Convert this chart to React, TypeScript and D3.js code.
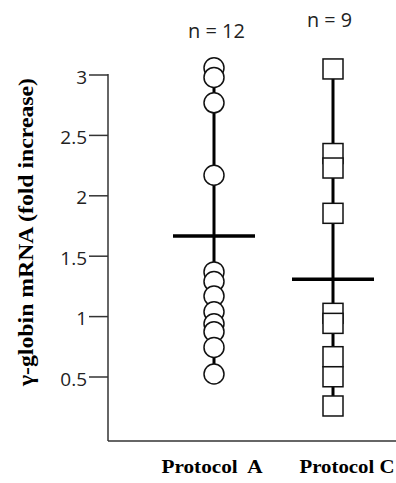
import * as d3 from "d3";

const GROUPS = ["Protocol A", "Protocol C"];
const N_LABELS = ["n = 12", "n = 9"];
const PROTOCOL_A = [3.06, 2.98, 2.77, 2.17, 1.37, 1.29, 1.17, 1.04, 0.94, 0.875, 0.745, 0.525];
const PROTOCOL_C = [3.05, 2.35, 2.23, 1.855, 1.027, 0.944, 0.668, 0.502, 0.26];
const MEANS = [1.667, 1.31];
const Y_TICKS = [0.5, 1, 1.5, 2, 2.5, 3];
const Y_TITLE = "γ-globin mRNA (fold increase)";

const WIDTH = 396;
const HEIGHT = 483;
const AXIS_X = 108;
const AXIS_Y = 441;
const MARKER = 20;
const MEAN_HALF = 41;

const SERIF = "'Liberation Serif', 'Times New Roman', serif";
const SANS = "'Open Sans', 'Noto Sans', sans-serif";

export default function App() {
  const yScale = d3.scaleLinear().domain([0.5, 3]).range([377, 75]);
  const xScale = d3.scalePoint<string>().domain(GROUPS).range([214, 333]);

  const series = [PROTOCOL_A, PROTOCOL_C];
  // label offsets relative to each group's column
  const labelDx = [-2, 14];
  const nDx = [2.5, -3.5];
  const nY = [38, 27];

  return (
    <svg
      width={WIDTH}
      height={HEIGHT}
      style={{ position: "absolute", left: 0, top: 0, background: "#fff" }}
    >
      {/* axes */}
      <line x1={AXIS_X} x2={AXIS_X} y1={yScale(3) - 1} y2={AXIS_Y} stroke="#333" strokeWidth={1.5} />
      <line x1={AXIS_X} x2={WIDTH} y1={AXIS_Y} y2={AXIS_Y} stroke="#333" strokeWidth={1.5} />
      {Y_TICKS.map((t) => (
        <g key={t} transform={`translate(0,${yScale(t)})`}>
          <line x1={89} x2={AXIS_X} stroke="#333" strokeWidth={1.5} />
          <text
            x={87}
            dy={8.5}
            textAnchor="end"
            fontFamily={SANS}
            fontSize={19}
            fill="#222"
          >
            {t}
          </text>
        </g>
      ))}

      {/* y title */}
      <text
        transform={`translate(33,${(78 + 386) / 2}) rotate(-90)`}
        textAnchor="middle"
        fontFamily={SERIF}
        fontWeight="bold"
        fontSize={20}
        textLength={308}
        lengthAdjust="spacingAndGlyphs"
        fill="#000"
      >
        {Y_TITLE}
      </text>

      {/* group labels */}
      {GROUPS.map((g, i) => (
        <text
          key={g}
          x={(xScale(g) ?? 0) + labelDx[i]}
          y={473}
          textAnchor="middle"
          fontFamily={SERIF}
          fontWeight="bold"
          fontSize={19}
          textLength={i === 0 ? 101 : 95}
          lengthAdjust="spacingAndGlyphs"
          fill="#000"
          style={{ whiteSpace: "pre" }}
        >
          {i === 0 ? "Protocol  A" : g}
        </text>
      ))}

      {/* n labels */}
      {GROUPS.map((g, i) => (
        <text
          key={g + "n"}
          x={(xScale(g) ?? 0) + nDx[i]}
          y={nY[i]}
          textAnchor="middle"
          fontFamily={SANS}
          fontSize={20}
          textLength={i === 0 ? 57 : 45}
          lengthAdjust="spacingAndGlyphs"
          fill="#222"
        >
          {N_LABELS[i]}
        </text>
      ))}

      {/* range lines */}
      {series.map((vals, i) => {
        const x = xScale(GROUPS[i]) ?? 0;
        const ext = d3.extent(vals) as [number, number];
        return (
          <line
            key={"r" + i}
            x1={x}
            x2={x}
            y1={yScale(ext[1])}
            y2={yScale(ext[0])}
            stroke="#000"
            strokeWidth={3}
          />
        );
      })}

      {/* Protocol A circles */}
      {PROTOCOL_A.map((v, j) => (
        <circle
          key={"a" + j}
          cx={xScale(GROUPS[0])}
          cy={yScale(v)}
          r={MARKER / 2}
          fill="#fff"
          stroke="#111"
          strokeWidth={1.5}
        />
      ))}

      {/* Protocol C squares */}
      {PROTOCOL_C.map((v, j) => (
        <rect
          key={"c" + j}
          x={(xScale(GROUPS[1]) ?? 0) - MARKER / 2}
          y={yScale(v) - MARKER / 2}
          width={MARKER}
          height={MARKER}
          fill="#fff"
          stroke="#111"
          strokeWidth={1.5}
        />
      ))}

      {/* means */}
      {MEANS.map((m, i) => {
        const x = xScale(GROUPS[i]) ?? 0;
        return (
          <line
            key={"m" + i}
            x1={x - MEAN_HALF}
            x2={x + MEAN_HALF}
            y1={yScale(m)}
            y2={yScale(m)}
            stroke="#000"
            strokeWidth={3.5}
          />
        );
      })}
    </svg>
  );
}
